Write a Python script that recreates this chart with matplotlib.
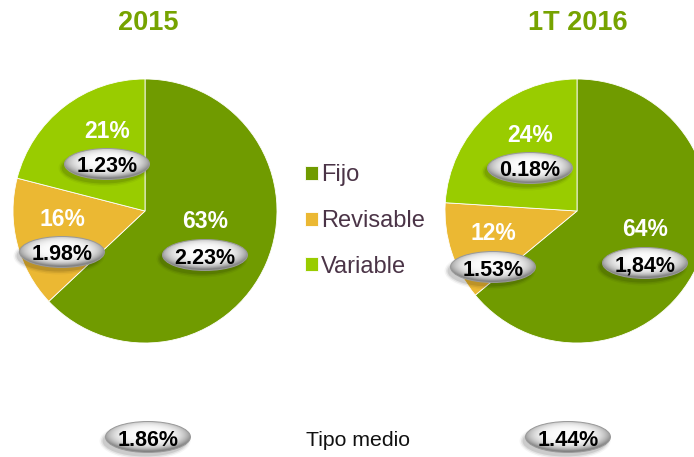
import numpy as np
import matplotlib
matplotlib.use('Agg')
import matplotlib.pyplot as plt
from matplotlib.patches import Ellipse

plt.rcParams['font.family'] = ['Liberation Sans', 'DejaVu Sans']

# data
years = ['2015', '1T 2016']
categories = ['Fijo', 'Revisable', 'Variable']
shares_2015 = [63, 16, 21]
shares_2016 = [64, 12, 24]
rates_2015 = ['2.23%', '1.98%', '1.23%']
rates_2016 = ['1,84%', '1.53%', '0.18%']
avg_rates = ['1.86%', '1.44%']
avg_label = 'Tipo medio'

colors = ['#709B00', '#EBB833', '#99CC00']
title_color = '#76A300'

W, H = 694, 457
def Y(y):
    # pixel row (from top) -> data y
    return H - y

# layout (pixel positions of the badge text, from the top-left corner)
pie_centers = [(145, 211), (577, 211)]
pie_radius = 132
title_x = [148, 578]
label_pos = [
    [(205, 258), (62, 255), (107, 167)],
    [(645, 266), (493, 270), (530, 171)],
]
avg_pos = [(148, 440), (568, 440)]

fig = plt.figure(figsize=(W / 100, H / 100), dpi=100)
ax = fig.add_axes([0, 0, 1, 1])

# glossy badge texture
n = 80
u, v = np.meshgrid(np.linspace(-1, 1, n), np.linspace(-1, 1, n))
d = np.sqrt(u ** 2 + ((v + 0.1) / 1.0) ** 2)
b = np.clip(0.99 - 0.36 * np.clip(d, 0, 1.3) ** 4, 0.56, 1)
b = b - 0.05 * np.clip(v, 0, 1)  # slightly darker lower half
grad = np.dstack([b, b, b])


def badge(x, y, text, w=85, h=31):
    ey = Y(y) + 3
    for k, a in [(6, 0.04), (3, 0.07), (0, 0.10)]:
        ax.add_patch(Ellipse((x - 3, ey - 4), w + k, h + k, facecolor='black',
                             alpha=a, lw=0, zorder=4))
    e = Ellipse((x, ey), w, h, facecolor='none', edgecolor='#999999', lw=0.7, zorder=6)
    ax.add_patch(e)
    im = ax.imshow(grad, extent=(x - w / 2, x + w / 2, ey - h / 2, ey + h / 2),
                   origin='upper', zorder=5, interpolation='bilinear')
    im.set_clip_path(e)
    ax.text(x, Y(y), text, ha='center', va='center', fontsize=15.5,
            fontweight='bold', color='black', zorder=7)


wedges_all = []
for i, (shares, rates) in enumerate([(shares_2015, rates_2015), (shares_2016, rates_2016)]):
    cx, cy = pie_centers[i]
    wedges, _ = ax.pie(shares, colors=colors, startangle=90, counterclock=False,
                       center=(cx, Y(cy)), radius=pie_radius,
                       wedgeprops=dict(edgecolor='white', linewidth=0.6))
    wedges_all.append(wedges)
    ax.text(title_x[i], Y(23), years[i], ha='center', va='center', fontsize=19.5,
            fontweight='bold', color=title_color)
    for j in range(len(shares)):
        lx, ly = label_pos[i][j]
        ax.text(lx, Y(ly - 36), f'{shares[j]}%', ha='center', va='center',
                fontsize=16.5, fontweight='bold', color='white', zorder=7)
        badge(lx, ly, rates[j])

for i, r in enumerate(avg_rates):
    badge(avg_pos[i][0], avg_pos[i][1], r)
ax.text(358, Y(441), avg_label, ha='center', va='center', fontsize=15.3, color='#111111')

ax.legend(wedges_all[0], categories, loc='upper left', bbox_to_anchor=(296 / W, 1 - 155 / H),
          frameon=False, fontsize=17, handlelength=0.55, handleheight=0.55,
          handletextpad=0.1, labelspacing=1.0, labelcolor='#4B3447', borderaxespad=0)

ax.set_xlim(0, W)
ax.set_ylim(0, H)
ax.set_aspect('auto')
ax.axis('off')

fig.savefig('out.png', dpi=100)
